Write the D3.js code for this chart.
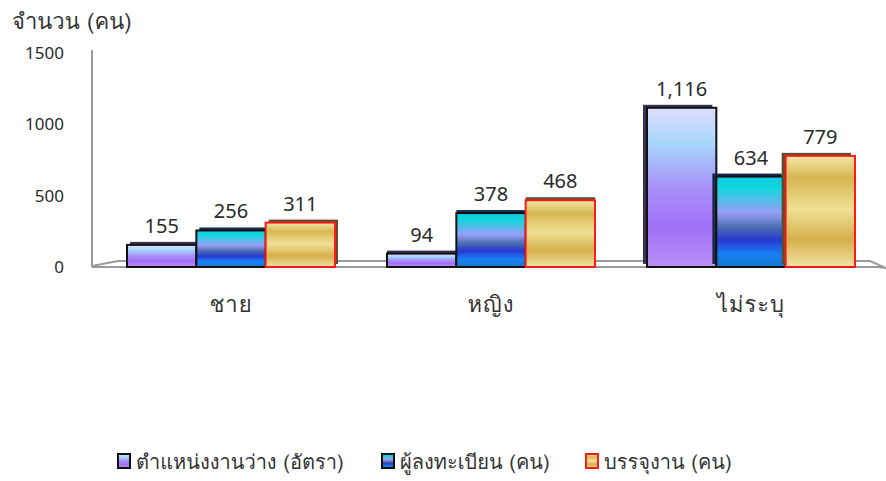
<!DOCTYPE html>
<html>
<head>
<meta charset="utf-8">
<script src="https://cdn.jsdelivr.net/npm/d3@7"></script>
<style>
  body { margin: 0; background: #fff; }
  svg text { font-family: "Noto Sans", "DejaVu Sans", sans-serif; fill: #2a2a2a; }
  svg text.thai { font-family: "Loma", "Noto Sans Thai", "Noto Sans", sans-serif; fill: #333; }
</style>
</head>
<body>
<div id="chart"></div>
<script>
// Data
const categories = ["ชาย", "หญิง", "ไม่ระบุ"];
const seriesNames = ["ตำแหน่งงานว่าง (อัตรา)", "ผู้ลงทะเบียน (คน)", "บรรจุงาน (คน)"];
const vacancies = [155, 94, 1116];
const registered = [256, 378, 634];
const placed = [311, 468, 779];
const yTicks = [0, 500, 1000, 1500];

const seriesValues = [vacancies, registered, placed];

const W = 886, H = 481;
const svg = d3.select("#chart").append("svg")
    .attr("width", W).attr("height", H);

const defs = svg.append("defs");

// Gradients imitating the glossy fills
function grad(id, stops) {
  const g = defs.append("linearGradient").attr("id", id)
      .attr("x1", 0).attr("y1", 0).attr("x2", 0).attr("y2", 1);
  stops.forEach(([o, c]) => g.append("stop").attr("offset", o).attr("stop-color", c));
}
grad("g0", [[0, "#dcdcff"], [0.22, "#a8d8fa"], [0.5, "#a890f8"], [0.75, "#a070f6"], [1, "#bc90f8"]]);
grad("g1", [[0, "#10c8e8"], [0.12, "#10d8dc"], [0.4, "#98a0f8"], [0.55, "#5070b0"], [0.7, "#2838d0"], [0.85, "#1880f4"], [1, "#1478d0"]]);
grad("g2", [[0, "#f4e6a6"], [0.2, "#d6b852"], [0.48, "#f0e096"], [0.75, "#d4b04a"], [1, "#f2e2a4"]]);

const fills = ["url(#g0)", "url(#g1)", "url(#g2)"];
const strokes = ["#111", "#111", "#ff1a1a"];
const sideFills = ["#3a3050", "#1a2a4a", "#5a4e30"];

// Scales
const y = d3.scaleLinear().domain([0, 1500]).range([267, 53]);
const x0 = d3.scaleBand().domain(categories).range([101, 881]).paddingInner(0).paddingOuter(0);
const x1 = d3.scaleBand().domain(d3.range(3)).range([0, 208]);
const groupOffset = (x0.bandwidth() - 208) / 2;

// Floor and axis
const axisColor = "#9a9a9a";
svg.append("path")
    .attr("d", `M92,267 L878,267 L886,268 M92,266 L118,261 L870,261 L886,268`)
    .attr("fill", "none").attr("stroke", axisColor).attr("stroke-width", 2);
svg.append("line")
    .attr("x1", 92).attr("x2", 92).attr("y1", 50).attr("y2", 267)
    .attr("stroke", axisColor).attr("stroke-width", 2);

// Y tick labels
svg.append("g").selectAll("text").data(yTicks).enter().append("text")
    .attr("x", 64).attr("y", d => y(d) + 6)
    .attr("text-anchor", "end")
    .attr("font-size", 17)
    .text(d => d);

// Axis title
svg.append("text").attr("class", "thai").attr("x", 12).attr("y", 29)
    .attr("font-size", 22).text("จำนวน (คน)");

// Bars
const depth = 3;
categories.forEach((cat, ci) => {
  const gx = x0(cat) + groupOffset;
  const dx = ci === 0 ? depth : ci === 1 ? 0 : -depth - 1;
  seriesValues.forEach((vals, si) => {
    const v = vals[ci];
    const bx = gx + x1(si);
    const bw = x1.bandwidth();
    const top = y(v);
    // back / side face
    svg.append("rect")
        .attr("x", bx + dx).attr("y", top - depth)
        .attr("width", bw).attr("height", y(0) - top)
        .attr("fill", sideFills[si]);
    // front face
    svg.append("rect")
        .attr("x", bx).attr("y", top)
        .attr("width", bw).attr("height", y(0) - top)
        .attr("fill", fills[si])
        .attr("stroke", strokes[si]).attr("stroke-width", 2);
    // value label
    svg.append("text")
        .attr("x", bx + bw / 2).attr("y", top - 12)
        .attr("text-anchor", "middle")
        .attr("font-size", 20)
        .text(d3.format(",")(v));
  });
});

// Category labels
svg.append("g").selectAll("text").data(categories).enter().append("text")
    .attr("class", "thai")
    .attr("x", d => x0(d) + x0.bandwidth() / 2)
    .attr("y", 312)
    .attr("text-anchor", "middle")
    .attr("font-size", 22)
    .attr("letter-spacing", 1)
    .text(d => d);

// Legend
const legendX = [118, 382, 586];
const legend = svg.append("g");
seriesNames.forEach((name, i) => {
  legend.append("rect")
      .attr("x", legendX[i]).attr("y", 454)
      .attr("width", 12).attr("height", 14)
      .attr("fill", fills[i])
      .attr("stroke", strokes[i]).attr("stroke-width", 2);
  legend.append("text")
      .attr("class", "thai")
      .attr("x", legendX[i] + 18).attr("y", 469)
      .attr("font-size", 20)
      .text(name);
});
</script>
</body>
</html>
